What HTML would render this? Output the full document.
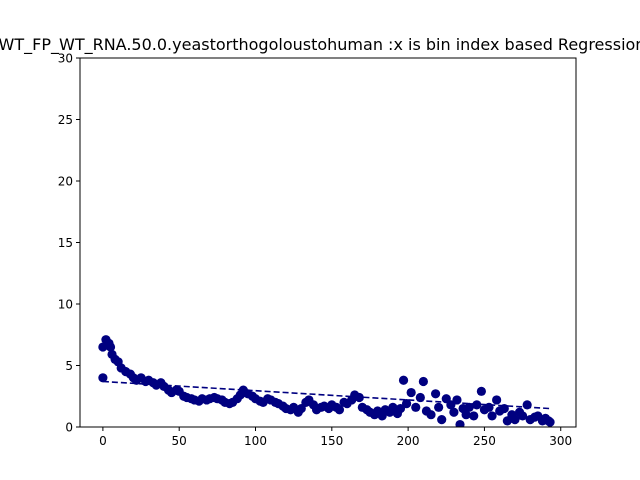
<!DOCTYPE html>
<html><head><meta charset="utf-8"><style>body{margin:0;background:#fff}svg{display:block;font-family:"DejaVu Sans","Liberation Sans",sans-serif}</style></head>
<body>
<svg id="chart" width="640" height="480"></svg>
<script>
const xs=[0,0,2,4,5,6,8,10,12,15,18,20,22,25,28,30,33,35,38,40,43,45,48,50,53,55,58,60,63,65,68,70,73,75,78,80,83,85,88,90,92,95,98,100,103,105,108,110,113,115,118,120,123,125,128,130,133,135,138,140,143,145,148,150,153,155,158,160,163,165,168,170,173,175,178,180,183,185,188,190,193,195,197,199,202,205,208,210,212,215,218,220,222,225,228,230,232,234,236,238,240,243,245,248,250,253,255,258,260,263,265,268,270,273,275,278,280,283,285,288,290,292,293];
const ys=[6.5,4.0,7.1,6.8,6.5,5.9,5.5,5.3,4.8,4.5,4.3,4.0,3.8,4.0,3.7,3.8,3.6,3.4,3.6,3.3,3.0,2.8,3.0,2.9,2.5,2.4,2.3,2.2,2.1,2.3,2.2,2.3,2.4,2.3,2.2,2.0,1.9,2.0,2.3,2.6,3.0,2.7,2.5,2.3,2.1,2.0,2.3,2.2,2.0,1.9,1.7,1.5,1.4,1.6,1.2,1.5,2.0,2.2,1.8,1.4,1.6,1.7,1.5,1.8,1.6,1.4,2.0,1.9,2.2,2.6,2.4,1.6,1.4,1.2,1.0,1.3,0.9,1.4,1.2,1.6,1.1,1.5,3.8,1.9,2.8,1.6,2.4,3.7,1.3,1.0,2.7,1.6,0.6,2.3,1.8,1.2,2.2,0.2,1.5,1.0,1.6,0.9,1.8,2.9,1.4,1.6,0.9,2.2,1.3,1.5,0.5,1.0,0.6,1.2,0.9,1.8,0.6,0.8,0.9,0.5,0.7,0.5,0.4];
const fitX=[0,293];
const fitY=[3.7,1.5];
const xTicks=[0,50,100,150,200,250,300];
const yTicks=[0,5,10,15,20,25,30];
const L=80,R=576,T=58,B=427;
const sx=v=>L+(v+15)/325*(R-L);
const sy=v=>B-v/30*(B-T);
const svg=document.getElementById('chart');
const NS='http://www.w3.org/2000/svg';
function mk(t,a,p){const e=document.createElementNS(NS,t);for(const k in a)e.setAttribute(k,a[k]);(p||svg).appendChild(e);return e;}
const title=mk('text',{x:322,y:50,'text-anchor':'middle','font-size':16,fill:'#000'});
title.textContent='WT_FP_WT_RNA.50.0.yeastorthogoloustohuman :x is bin index based Regression';


const g=mk('g',{});


xs.forEach((x,i)=>{const c=mk('circle',{cx:sx(x),cy:sy(ys[i]),r:4.6,fill:'#000080'},g);

});
const fl=mk('line',{x1:sx(fitX[0]),y1:sy(fitY[0]),x2:sx(fitX[1]),y2:sy(fitY[1]),stroke:'#000080','stroke-width':1.6,'stroke-dasharray':'6,3'});


const cp=mk('rect',{x:0,y:B,width:640,height:53,fill:'#fff'});
const frame=mk('rect',{x:L,y:T,width:R-L,height:B-T,fill:'none',stroke:'#000','stroke-width':1});


xTicks.forEach(v=>{const x=sx(v);mk('line',{x1:x,y1:B,x2:x,y2:B+4,stroke:'#000'});
const t=mk('text',{x:x,y:B+18,'text-anchor':'middle','font-size':12});t.textContent=v;

});
yTicks.forEach(v=>{const y=sy(v);mk('line',{x1:L-4,y1:y,x2:L,y2:y,stroke:'#000'});
const t=mk('text',{x:L-7,y:y+4.5,'text-anchor':'end','font-size':12});t.textContent=v;

});
</script>
</body></html>
